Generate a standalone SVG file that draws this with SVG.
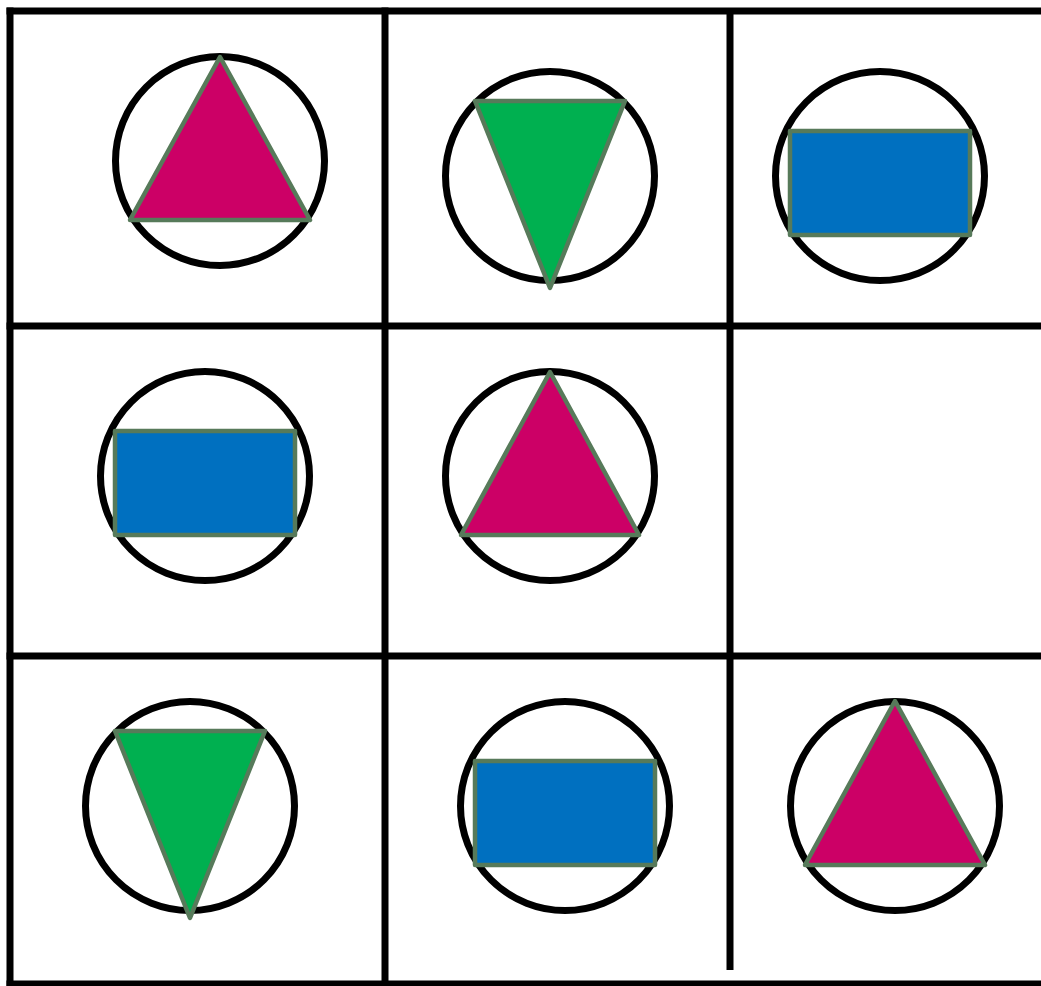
<svg xmlns="http://www.w3.org/2000/svg" width="1041" height="986" viewBox="0 0 1041 986">
<style>
.grid{stroke:#000;stroke-width:7;stroke-linecap:square;fill:none}
.ring{fill:none;stroke:#000;stroke-width:7}
.shape{stroke:#577A5A;stroke-width:4.5;stroke-linejoin:round}
.tri-up{fill:#CC0066}
.tri-down{fill:#00B050}
.box{fill:#0070C0}
</style>
<rect width="1041" height="986" fill="#fff"/>
<g id="grid">
<line class="grid" x1="10" y1="11" x2="1045" y2="11"/>
<line class="grid" x1="10" y1="326" x2="1045" y2="326"/>
<line class="grid" x1="10" y1="656" x2="1045" y2="656"/>
<line class="grid" x1="10" y1="984" x2="1045" y2="984"/>
<line class="grid" x1="10" y1="11" x2="10" y2="990"/>
<line class="grid" x1="385" y1="11" x2="385" y2="990"/>
<line style="stroke:#000;stroke-width:7" x1="730" y1="11" x2="730" y2="970"/>
</g>
<g id="cell-1-1">
<circle class="ring" cx="220" cy="161" r="104.5"/>
<polygon class="shape tri-up" points="220,57 310,220 130,220"/>
</g>
<g id="cell-1-2">
<circle class="ring" cx="550" cy="176" r="104.5"/>
<polygon class="shape tri-down" points="475,101 625,101 550,288"/>
</g>
<g id="cell-1-3">
<circle class="ring" cx="880" cy="176" r="104.5"/>
<rect class="shape box" x="790" y="131" width="180" height="104"/>
</g>
<g id="cell-2-1">
<circle class="ring" cx="205" cy="476" r="104.5"/>
<rect class="shape box" x="115" y="431" width="180" height="104"/>
</g>
<g id="cell-2-2">
<circle class="ring" cx="550" cy="476" r="104.5"/>
<polygon class="shape tri-up" points="550,372 639,535 461,535"/>
</g>
<g id="cell-3-1">
<circle class="ring" cx="190" cy="806" r="104.5"/>
<polygon class="shape tri-down" points="115,731 265,731 190,918"/>
</g>
<g id="cell-3-2">
<circle class="ring" cx="565" cy="806" r="104.5"/>
<rect class="shape box" x="475" y="761" width="180" height="104"/>
</g>
<g id="cell-3-3">
<circle class="ring" cx="895" cy="806" r="104.5"/>
<polygon class="shape tri-up" points="895,701 985,865 805,865"/>
</g>
</svg>
